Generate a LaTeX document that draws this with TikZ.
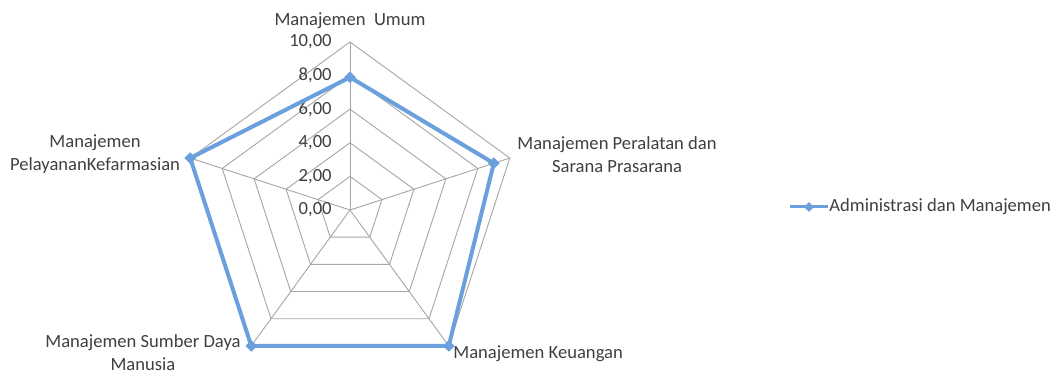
\documentclass[tikz,border=0pt]{standalone}
\usepackage{fontspec}
\setmainfont{Carlito}
\usetikzlibrary{shapes.geometric}
\definecolor{serieblue}{HTML}{6CA0DC}
\definecolor{gridgray}{HTML}{A6A6A6}
\definecolor{labelgray}{HTML}{404040}
\tikzset{gridline/.style={draw=gridgray, line width=0.45pt},
	dataline/.style={draw=serieblue, line width=2pt, line join=round},
	datamark/.style={diamond, fill=serieblue, minimum size=6pt, inner sep=0pt}}

\begin{document}
\begin{tikzpicture}[x=0.5pt, y=0.5pt, every node/.style={font=\fontsize{9.3}{11.6}\selectfont, text=labelgray, inner sep=0pt}]
		\useasboundingbox (0,0) rectangle (1059,375);
		\fill[white] (0,0) rectangle (1059,375);

		% Radar
		\begin{scope}[shift={(350,165)}]
			\foreach \r in {1,...,5}{
				\draw[gridline] (90:33.6*\r) -- (18:33.6*\r) -- (-54:33.6*\r)
					-- (-126:33.6*\r) -- (162:33.6*\r) -- cycle;
			}
			\foreach \ang in {90,18,-54,-126,162}{
				\draw[gridline] (0,0) -- (\ang:168);
			}
			\foreach \v in {0,2,4,6,8,10}{
				\node[anchor=east] (tick\v) at (-18,16.8*\v) {\v,00};
			}
			% series
			\coordinate (umum) at (90:16.8*7.9);
			\coordinate (alat) at (18:16.8*9.0);
			\coordinate (uang) at (-54:168);
			\coordinate (sdm) at (-126:168);
			\coordinate (farm) at (162:168);
			\draw[dataline] (umum) -- (alat) -- (uang) -- (sdm) -- (farm) -- cycle;
			\foreach \p in {umum,alat,uang,sdm,farm}{
				\node[datamark] (m\p) at (\p) {};
			}
			% axis labels
			\node (lUmum) at (0,189) {Manajemen\ \ Umum};
			\node[align=center] (lAlat) at (267,55) {Manajemen Peralatan dan\\Sarana Prasarana};
			\node[anchor=west] (lUang) at (103,-144) {Manajemen Keuangan};
			\node[align=center] (lSdm) at (-207,-143) {Manajemen Sumber Daya\\Manusia};
			\node[align=center] (lFarm) at (-255,56) {Manajemen\\PelayananKefarmasian};
		\end{scope}

		% Legend
		\coordinate (legA) at (790,168);
		\coordinate (legB) at (828,168);
		\draw[dataline, line width=1.5pt] (legA) -- (legB);
		\node[datamark, minimum size=5pt] (legM) at (809,168) {};
		\node[anchor=west] (legT) at (829,168) {Administrasi dan Manajemen};
	\end{tikzpicture}
\end{document}
